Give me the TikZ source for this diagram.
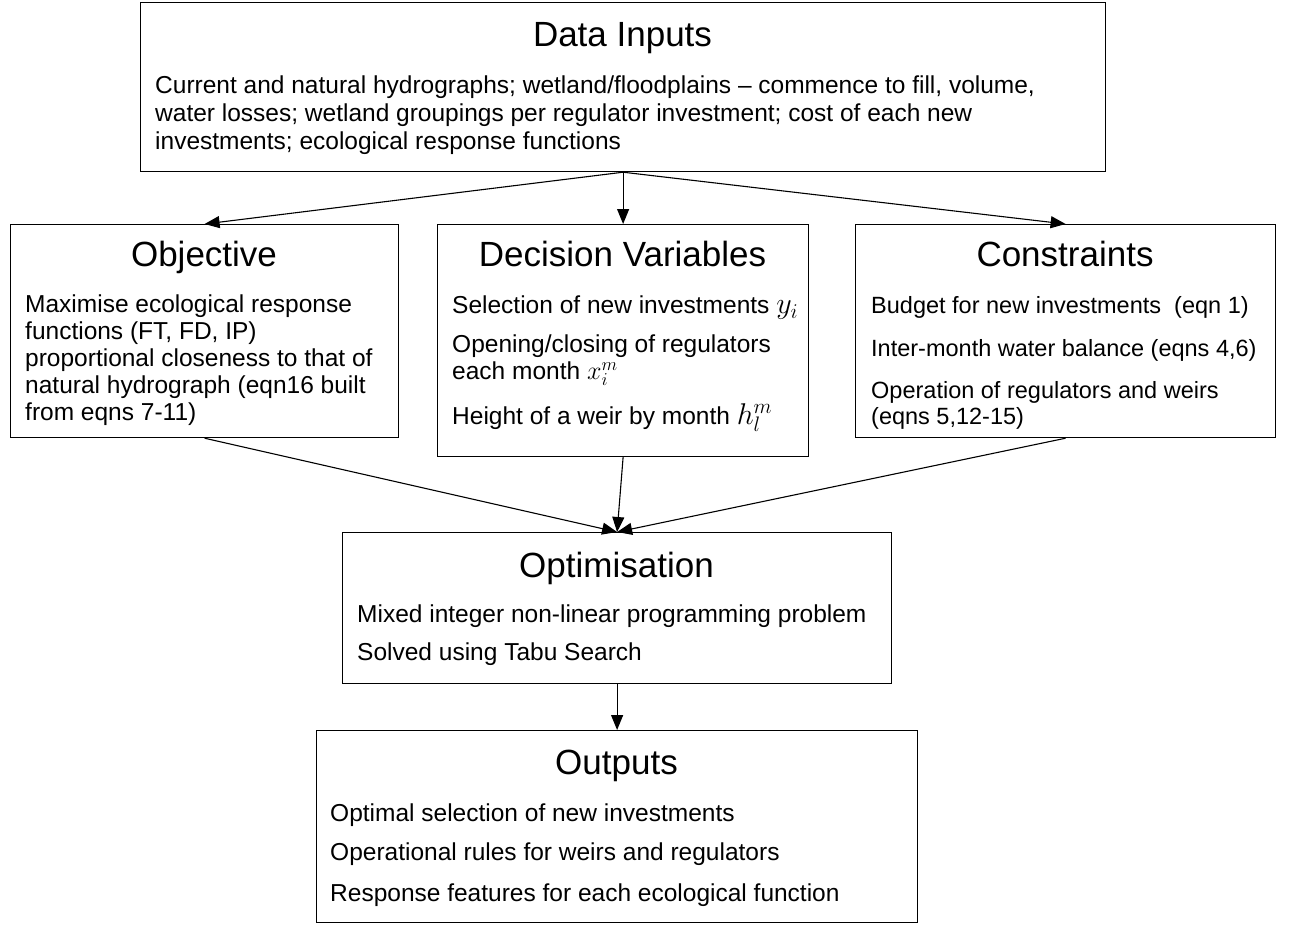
\RequirePackage{fix-cm}
\documentclass[tikz,border=0pt]{standalone}
\usepackage{fontspec}
\setmainfont{Liberation Sans}
\usetikzlibrary{arrows.meta}
\begin{document}
\begin{tikzpicture}[x=1pt,y=-1pt,
 box/.style={draw, line width=1.2pt, inner sep=0pt, anchor=north west},
 ttl/.style={font=\fontsize{35}{40}\selectfont, anchor=base, inner sep=0pt},
 txt/.style={font=\fontsize{24.5}{27}\selectfont, anchor=base west, inner sep=0pt},
 arr/.style={-{Triangle[length=15pt,width=12pt]}, line width=1.1pt}]
\useasboundingbox (0,0) rectangle (1289,924);
% boxes
\node[box, minimum width=965pt, minimum height=169pt] (data) at (140,2) {};
\node[box, minimum width=388pt, minimum height=213pt] (obj) at (10,224) {};
\node[box, minimum width=371pt, minimum height=232pt] (dec) at (437,224) {};
\node[box, minimum width=420pt, minimum height=213pt] (con) at (855,224) {};
\node[box, minimum width=549pt, minimum height=151pt] (opt) at (342,532) {};
\node[box, minimum width=601pt, minimum height=192pt] (out) at (316,730) {};
% data inputs
\node[ttl] (dataT) at (622.5,46) {Data Inputs};
\node[txt] (data1) at (155,93.5) {Current and natural hydrographs; wetland/floodplains -- commence to fill, volume,};
\node[txt] (data2) at (155,121.5) {water losses; wetland groupings per regulator investment; cost of each new};
\node[txt] (data3) at (155,149.5) {investments; ecological response functions};
% objective
\node[ttl] (objT) at (204,266.5) {Objective};
\node[txt] (obj1) at (25,312.5) {Maximise ecological response};
\node[txt] (obj2) at (25,339.5) {functions (FT, FD, IP)};
\node[txt] (obj3) at (25,366.5) {proportional closeness to that of};
\node[txt] (obj4) at (25,393.5) {natural hydrograph (eqn16 built};
\node[txt] (obj5) at (25,420.5) {from eqns 7-11)};
% decision variables
\node[ttl] (decT) at (622.5,266.5) {Decision Variables};
\node[txt] (dec1) at (452,313.5) {Selection of new investments {\fontsize{30}{30}\selectfont$y_i$}};
\node[txt] (dec2) at (452,352.5) {Opening/closing of regulators};
\node[txt] (dec3) at (452,379.5) {each month {\fontsize{26}{30}\selectfont$x_i^m$}};
\node[txt] (dec4) at (452,424.5) {Height of a weir by month {\fontsize{30}{30}\selectfont$h_l^m$}};
% constraints
\node[ttl] (conT) at (1065,266.5) {Constraints};
\node[txt, font=\fontsize{23.5}{27}\selectfont] (con1) at (871,313.5) {Budget for new investments\ \ (eqn 1)};
\node[txt, font=\fontsize{23.5}{27}\selectfont] (con2) at (871,356.5) {Inter-month water balance (eqns 4,6)};
\node[txt, font=\fontsize{23.5}{27}\selectfont] (con3) at (871,398.5) {Operation of regulators and weirs};
\node[txt, font=\fontsize{23.5}{27}\selectfont] (con4) at (871,424.5) {(eqns 5,12-15)};
% optimisation
\node[ttl] (optT) at (616.5,577.5) {Optimisation};
\node[txt] (opt1) at (357,622.5) {Mixed integer non-linear programming problem};
\node[txt] (opt2) at (357,660.5) {Solved using Tabu Search};
% outputs
\node[ttl] (outT) at (616.5,774.5) {Outputs};
\node[txt] (out1) at (330,821.5) {Optimal selection of new investments};
\node[txt] (out2) at (330,860.5) {Operational rules for weirs and regulators};
\node[txt] (out3) at (330,901.5) {Response features for each ecological function};
% connectors
\draw[arr] (data.south) -- (obj.north);
\draw[arr] (data.south) -- (dec.north);
\draw[arr] (data.south) -- (con.north);
\draw[arr] (obj.south) -- (opt.north);
\draw[arr] (dec.south) -- (opt.north);
\draw[arr] (con.south) -- (opt.north);
\draw[arr] (opt.south) -- (out.north);
\end{tikzpicture}
\end{document}
